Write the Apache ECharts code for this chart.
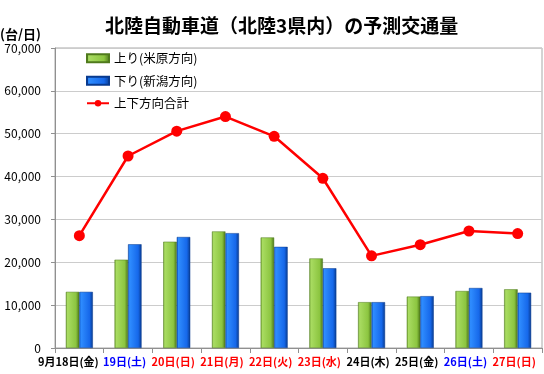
<!DOCTYPE html>
<html><head><meta charset="utf-8">
<script src="https://cdn.jsdelivr.net/npm/echarts@6/dist/echarts.min.js"></script>
<style>html,body{margin:0;padding:0;background:#fff}#c{width:544px;height:374px}</style>
</head><body><div id="c"></div>
<script>
var categories = ['9月18日(金)','19日(土)','20日(日)','21日(月)','22日(火)','23日(水)','24日(木)','25日(金)','26日(土)','27日(日)'];
var labelColors = ['f','b','r','r','r','r','k','k','b','r'];
var upValues = [13100, 20600, 24800, 27200, 25800, 20900, 10700, 12000, 13300, 13700];
var downValues = [13100, 24200, 25900, 26800, 23600, 18600, 10700, 12100, 14000, 12900];
var totalValues = [26200, 44800, 50600, 54000, 49400, 39600, 21500, 24100, 27300, 26700];
var yTicks = [0, 10000, 20000, 30000, 40000, 50000, 60000, 70000];

var font = '"Noto Sans CJK JP", "Noto Sans", sans-serif';
var chart = echarts.init(document.getElementById('c'));
function grad(stops){ return {type:'linear',x:0,y:0,x2:1,y2:0,colorStops:stops}; }
var green = grad([{offset:0,color:'#6e9e2e'},{offset:0.12,color:'#a9dc62'},{offset:0.75,color:'#8cc540'},{offset:1,color:'#4a7418'}]);
var blue = grad([{offset:0,color:'#0b55c8'},{offset:0.12,color:'#2f8dff'},{offset:0.75,color:'#1668ea'},{offset:1,color:'#083a8e'}]);
var lbl = {fontWeight:'bold',fontSize:11,padding:[0,7,0,0]};
chart.setOption({
  animation:false,
  textStyle:{fontFamily:font},
  title:{text:'北陸自動車道（北陸3県内）の予測交通量',left:100,top:11,
    textStyle:{fontSize:19,fontWeight:'bold',color:'#000',fontFamily:font}},
  graphic:[{type:'text',left:0,top:28,style:{text:'(台/日)',font:'bold 13px '+font,fill:'#000'}}],
  legend:{orient:'vertical',left:86,top:52,padding:0,itemGap:10,itemWidth:22,itemHeight:8,
    textStyle:{fontSize:12.5,color:'#000',fontFamily:font},
    data:[{name:'上り(米原方向)',icon:'rect'},{name:'下り(新潟方向)',icon:'rect'},{name:'上下方向合計'}]},
  grid:{left:55,right:2,top:48,bottom:26,show:true,borderColor:'#a8a8a8',borderWidth:1},
  xAxis:{type:'category',data:categories,
    axisLine:{lineStyle:{color:'#909090'}},
    axisTick:{show:true,interval:0,length:5,lineStyle:{color:'#909090'}},
    axisLabel:{interval:0,margin:8,fontSize:11,fontWeight:'bold',
      formatter:function(v,i){return '{'+labelColors[i]+'|'+v+'}';},
      rich:{f:Object.assign({},lbl,{color:'#000',padding:[0,22,0,0]}),
            k:Object.assign({},lbl,{color:'#000'}),
            b:Object.assign({},lbl,{color:'#0000ff'}),
            r:Object.assign({},lbl,{color:'#ff0000'})}}},
  yAxis:{type:'value',min:yTicks[0],max:yTicks[yTicks.length-1],interval:10000,
    axisLine:{show:true,lineStyle:{color:'#909090'}},
    axisTick:{show:true,length:4,lineStyle:{color:'#909090'}},
    splitLine:{lineStyle:{color:'#cccccc',width:1}},
    axisLabel:{fontSize:12,color:'#000',margin:14,formatter:function(v){return v.toLocaleString('en-US');}}},
  series:[
    {name:'上り(米原方向)',type:'bar',data:upValues,barWidth:13.5,barGap:'0%',
      itemStyle:{color:green,borderColor:'#4f7a1c',borderWidth:0.5}},
    {name:'下り(新潟方向)',type:'bar',data:downValues,barWidth:13.5,barGap:'0%',
      itemStyle:{color:blue,borderColor:'#083a8e',borderWidth:0.5}},
    {name:'上下方向合計',type:'line',data:totalValues,symbol:'circle',symbolSize:11,
      lineStyle:{color:'#ff0000',width:2.5},itemStyle:{color:'#ff0000'},z:5}
  ]
});
</script></body></html>
